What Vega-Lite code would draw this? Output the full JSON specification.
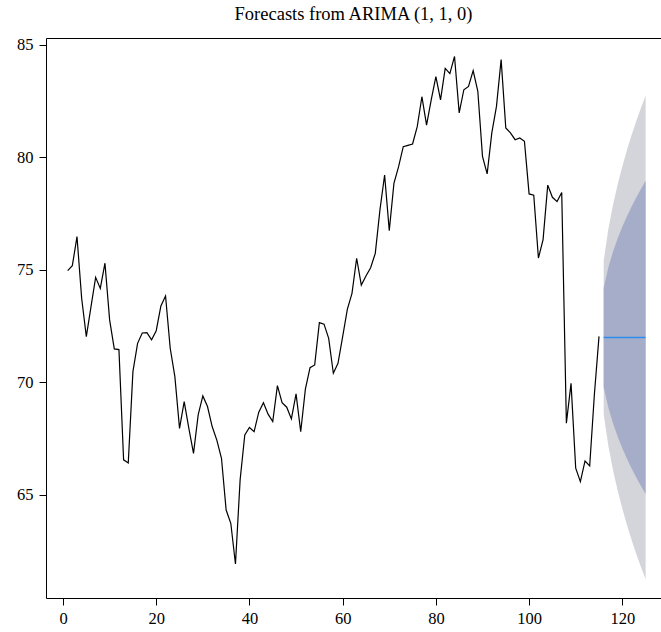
{
  "$schema": "https://vega.github.io/schema/vega-lite/v6.json",
  "width": 615,
  "height": 560,
  "autosize": "none",
  "padding": {"left": 46, "top": 38, "right": 0, "bottom": 34},
  "title": {"text": "Forecasts from ARIMA (1, 1, 0)", "font": "Liberation Serif", "fontSize": 18.5, "fontWeight": "normal", "color": "black", "offset": 13, "anchor": "middle"},
  "config": {
    "view": {"stroke": null},
    "axis": {"labelFont": "Liberation Serif", "labelFontSize": 16.5, "labelColor": "black", "tickColor": "black", "domainColor": "black", "grid": false, "title": null, "tickSize": 7, "domainWidth": 1, "tickWidth": 1}
  },
  "datasets": {
    "series": [
      {"t": 1, "v": 74.97}, {"t": 2, "v": 75.19}, {"t": 3, "v": 76.48}, {"t": 4, "v": 73.74}, {"t": 5, "v": 72.04},
      {"t": 6, "v": 73.36}, {"t": 7, "v": 74.67}, {"t": 8, "v": 74.18}, {"t": 9, "v": 75.30}, {"t": 10, "v": 72.78},
      {"t": 11, "v": 71.49}, {"t": 12, "v": 71.46}, {"t": 13, "v": 66.56}, {"t": 14, "v": 66.42}, {"t": 15, "v": 70.48},
      {"t": 16, "v": 71.74}, {"t": 17, "v": 72.20}, {"t": 18, "v": 72.21}, {"t": 19, "v": 71.90}, {"t": 20, "v": 72.30},
      {"t": 21, "v": 73.40}, {"t": 22, "v": 73.84}, {"t": 23, "v": 71.52}, {"t": 24, "v": 70.26}, {"t": 25, "v": 67.96},
      {"t": 26, "v": 69.15}, {"t": 27, "v": 67.96}, {"t": 28, "v": 66.85}, {"t": 29, "v": 68.56}, {"t": 30, "v": 69.40},
      {"t": 31, "v": 68.93}, {"t": 32, "v": 68.04}, {"t": 33, "v": 67.44}, {"t": 34, "v": 66.63}, {"t": 35, "v": 64.33},
      {"t": 36, "v": 63.74}, {"t": 37, "v": 61.93}, {"t": 38, "v": 65.67}, {"t": 39, "v": 67.67}, {"t": 40, "v": 68.00},
      {"t": 41, "v": 67.81}, {"t": 42, "v": 68.68}, {"t": 43, "v": 69.10}, {"t": 44, "v": 68.59}, {"t": 45, "v": 68.26},
      {"t": 46, "v": 69.86}, {"t": 47, "v": 69.10}, {"t": 48, "v": 68.90}, {"t": 49, "v": 68.38}, {"t": 50, "v": 69.49},
      {"t": 51, "v": 67.81}, {"t": 52, "v": 69.70}, {"t": 53, "v": 70.66}, {"t": 54, "v": 70.78}, {"t": 55, "v": 72.66},
      {"t": 56, "v": 72.59}, {"t": 57, "v": 71.96}, {"t": 58, "v": 70.41}, {"t": 59, "v": 70.85}, {"t": 60, "v": 72.04},
      {"t": 61, "v": 73.25}, {"t": 62, "v": 73.96}, {"t": 63, "v": 75.52}, {"t": 64, "v": 74.33}, {"t": 65, "v": 74.73},
      {"t": 66, "v": 75.10}, {"t": 67, "v": 75.74}, {"t": 68, "v": 77.67}, {"t": 69, "v": 79.22}, {"t": 70, "v": 76.75},
      {"t": 71, "v": 78.85}, {"t": 72, "v": 79.59}, {"t": 73, "v": 80.48}, {"t": 74, "v": 80.54}, {"t": 75, "v": 80.60},
      {"t": 76, "v": 81.37}, {"t": 77, "v": 82.70}, {"t": 78, "v": 81.44}, {"t": 79, "v": 82.56}, {"t": 80, "v": 83.59},
      {"t": 81, "v": 82.56}, {"t": 82, "v": 83.96}, {"t": 83, "v": 83.73}, {"t": 84, "v": 84.49}, {"t": 85, "v": 81.98},
      {"t": 86, "v": 83.01}, {"t": 87, "v": 83.16}, {"t": 88, "v": 83.86}, {"t": 89, "v": 82.94}, {"t": 90, "v": 80.05},
      {"t": 91, "v": 79.27}, {"t": 92, "v": 81.09}, {"t": 93, "v": 82.27}, {"t": 94, "v": 84.35}, {"t": 95, "v": 81.31},
      {"t": 96, "v": 81.09}, {"t": 97, "v": 80.79}, {"t": 98, "v": 80.87}, {"t": 99, "v": 80.72}, {"t": 100, "v": 78.38},
      {"t": 101, "v": 78.32}, {"t": 102, "v": 75.53}, {"t": 103, "v": 76.35}, {"t": 104, "v": 78.77}, {"t": 105, "v": 78.23},
      {"t": 106, "v": 78.04}, {"t": 107, "v": 78.44}, {"t": 108, "v": 68.19}, {"t": 109, "v": 69.96}, {"t": 110, "v": 66.19},
      {"t": 111, "v": 65.59}, {"t": 112, "v": 66.51}, {"t": 113, "v": 66.29}, {"t": 114, "v": 69.44}, {"t": 115, "v": 72.05}
    ],
    "fc": [
      {"t": 116, "f": 72.0, "lo95": 68.60, "hi95": 75.40, "lo80": 69.80, "hi80": 74.20},
      {"t": 117, "f": 72.0, "lo95": 67.19, "hi95": 76.81, "lo80": 68.89, "hi80": 75.11},
      {"t": 118, "f": 72.0, "lo95": 66.11, "hi95": 77.89, "lo80": 68.19, "hi80": 75.81},
      {"t": 119, "f": 72.0, "lo95": 65.20, "hi95": 78.80, "lo80": 67.60, "hi80": 76.40},
      {"t": 120, "f": 72.0, "lo95": 64.40, "hi95": 79.60, "lo80": 67.08, "hi80": 76.92},
      {"t": 121, "f": 72.0, "lo95": 63.67, "hi95": 80.33, "lo80": 66.61, "hi80": 77.39},
      {"t": 122, "f": 72.0, "lo95": 63.00, "hi95": 81.00, "lo80": 66.18, "hi80": 77.82},
      {"t": 123, "f": 72.0, "lo95": 62.38, "hi95": 81.62, "lo80": 65.78, "hi80": 78.22},
      {"t": 124, "f": 72.0, "lo95": 61.80, "hi95": 82.20, "lo80": 65.40, "hi80": 78.60},
      {"t": 125, "f": 72.0, "lo95": 61.25, "hi95": 82.75, "lo80": 65.04, "hi80": 78.96}
    ]
  },
  "layer": [
    {
      "data": {"name": "fc"},
      "mark": {"type": "area", "color": "#D4D5DA", "opacity": 1},
      "encoding": {
        "x": {"field": "t", "type": "quantitative", "scale": {"domain": [-3.65, 128.3], "nice": false, "zero": false}, "axis": {"orient": "bottom", "values": [0, 20, 40, 60, 80, 100, 120], "labelPadding": 5}},
        "y": {"field": "lo95", "type": "quantitative", "scale": {"domain": [60.42, 85.31], "nice": false, "zero": false}, "axis": {"values": [65, 70, 75, 80, 85], "labelPadding": 6}},
        "y2": {"field": "hi95"}
      }
    },
    {
      "data": {"name": "fc"},
      "mark": {"type": "area", "color": "#A5ADC8", "opacity": 1},
      "encoding": {
        "x": {"field": "t", "type": "quantitative", "axis": {"orient": "top", "labels": false, "ticks": false}},
        "y": {"field": "lo80", "type": "quantitative"},
        "y2": {"field": "hi80"}
      }
    },
    {
      "data": {"name": "fc"},
      "mark": {"type": "line", "color": "#2F8DF0", "strokeWidth": 1.5},
      "encoding": {
        "x": {"field": "t", "type": "quantitative", "axis": null},
        "y": {"field": "f", "type": "quantitative"}
      }
    },
    {
      "data": {"name": "series"},
      "mark": {"type": "line", "color": "black", "strokeWidth": 1.2},
      "encoding": {
        "x": {"field": "t", "type": "quantitative", "axis": null},
        "y": {"field": "v", "type": "quantitative"}
      }
    }
  ],
  "resolve": {"axis": {"x": "independent"}}
}
